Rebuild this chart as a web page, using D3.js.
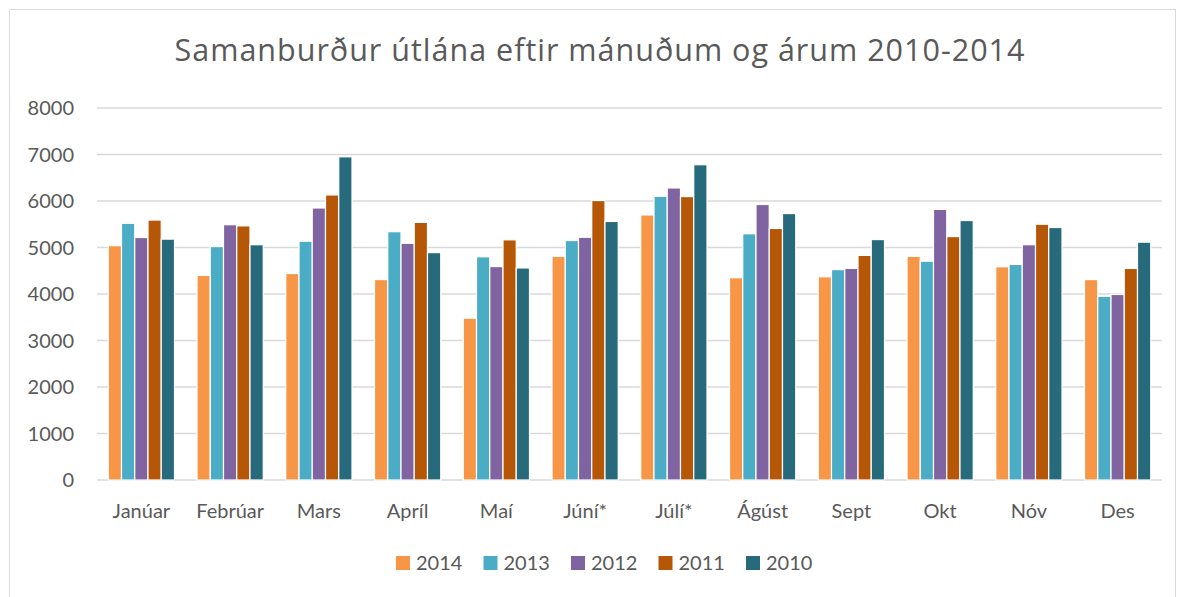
<!DOCTYPE html>
<meta charset="utf-8">
<script src="https://d3js.org/d3.v7.min.js"></script>
<style>
  body { margin: 0; background: #fff; }
  text { font-family: Lato, "Open Sans", sans-serif; fill: #595959; }
</style>
<div id="chart"></div>
<script>

// months on the x axis
var months = ["Janúar", "Febrúar", "Mars", "Apríl", "Maí", "Júní*", "Júlí*", "Ágúst", "Sept", "Okt", "Nóv", "Des"]
var years = ["2014", "2013", "2012", "2011", "2010"]

// values per year, one per month
var y2014 = [5040, 4400, 4440, 4310, 3480, 4810, 5700, 4350, 4370, 4810, 4585, 4310]
var y2013 = [5520, 5020, 5135, 5340, 4800, 5150, 6100, 5295, 4525, 4705, 4635, 3950]
var y2012 = [5215, 5490, 5850, 5090, 4590, 5220, 6280, 5925, 4550, 5820, 5060, 3990]
var y2011 = [5590, 5465, 6130, 5540, 5165, 6010, 6095, 5410, 4830, 5235, 5500, 4550]
var y2010 = [5180, 5060, 6950, 4890, 4560, 5560, 6780, 5730, 5170, 5580, 5430, 5115]

var yTicks = [0, 1000, 2000, 3000, 4000, 5000, 6000, 7000, 8000]

var colors = {"2014": "#F79646", "2013": "#4BACC6", "2012": "#8064A2", "2011": "#B65708", "2010": "#276A7C"}

var seriesValues = {"2014": y2014, "2013": y2013, "2012": y2012, "2011": y2011, "2010": y2010}

var data = months.map(function(m, i){
	var row = {month: m}
	years.forEach(function(y){ row[y] = seriesValues[y][i] })
	return row
})

var width = 1184
var height = 597
var margin = {left: 97, right: 22, top: 108, bottom: 117}

var svg = d3.select("#chart").append("svg").attr("width", width).attr("height", height)

// chart frame
svg.append("rect")
	.attr("x", 9.5).attr("y", 9.5)
	.attr("width", 1166).attr("height", 600)
	.attr("fill", "none").attr("stroke", "#d9d9d9").attr("stroke-width", 1)

var title = svg.append("text")
	.text("Samanburður útlána eftir mánuðum og árum 2010-2014")
	.attr("x", 600).attr("y", 61)
	.attr("text-anchor", "middle")
	.style("font-family", "'Open Sans', sans-serif")
	.style("font-size", "30.5px")

// stretch the title to the width it has in the picture
var tw = title.node().getComputedTextLength()
title.style("letter-spacing", ((851 - tw) / 50) + "px")

var x = d3.scaleBand()
	.domain(months)
	.range([margin.left, width - margin.right])

var x1 = d3.scaleBand()
	.domain(years)
	.range([0, x.bandwidth()])
	.paddingOuter(0.85)
	.paddingInner(0)

var y = d3.scaleLinear()
	.domain([0, 8000])
	.range([height - margin.bottom, margin.top])

// gridlines
svg.append("g")
	.selectAll("line")
	.data(yTicks)
	.join("line")
	.attr("x1", margin.left).attr("x2", width - margin.right)
	.attr("y1", d => y(d)).attr("y2", d => y(d))
	.attr("stroke", "#d9d9d9").attr("stroke-width", 1.5)

// y labels
svg.append("g")
	.selectAll("text")
	.data(yTicks)
	.join("text")
	.text(d => d)
	.attr("x", 74)
	.attr("y", d => y(d) + 7)
	.attr("text-anchor", "end")
	.style("font-size", "20px")

// bars
var groups = svg.append("g")
	.selectAll("g")
	.data(data)
	.join("g")
	.attr("transform", d => "translate(" + x(d.month) + ",0)")

groups.selectAll("rect")
	.data(d => years.map(function(yr){ return {year: yr, value: d[yr]} }))
	.join("rect")
	.attr("x", d => x1(d.year))
	.attr("width", x1.bandwidth())
	.attr("y", d => y(d.value))
	.attr("height", d => y(0) - y(d.value))
	.attr("fill", d => colors[d.year])
	.attr("stroke", "#fff").attr("stroke-width", 1.2)

// month labels
svg.append("g")
	.selectAll("text")
	.data(months)
	.join("text")
	.text(d => d)
	.attr("x", d => x(d) + x.bandwidth() / 2)
	.attr("y", 518)
	.attr("text-anchor", "middle")
	.style("font-size", "20px")

// legend
var legend = svg.append("g")
	.selectAll("g")
	.data(years)
	.join("g")
	.attr("transform", (d, i) => "translate(" + (396 + i * 87.5) + ",556)")

legend.append("rect")
	.attr("width", 14).attr("height", 14)
	.attr("fill", d => colors[d])

legend.append("text")
	.text(d => d)
	.attr("x", 20).attr("y", 14)
	.style("font-size", "20px")

</script>
